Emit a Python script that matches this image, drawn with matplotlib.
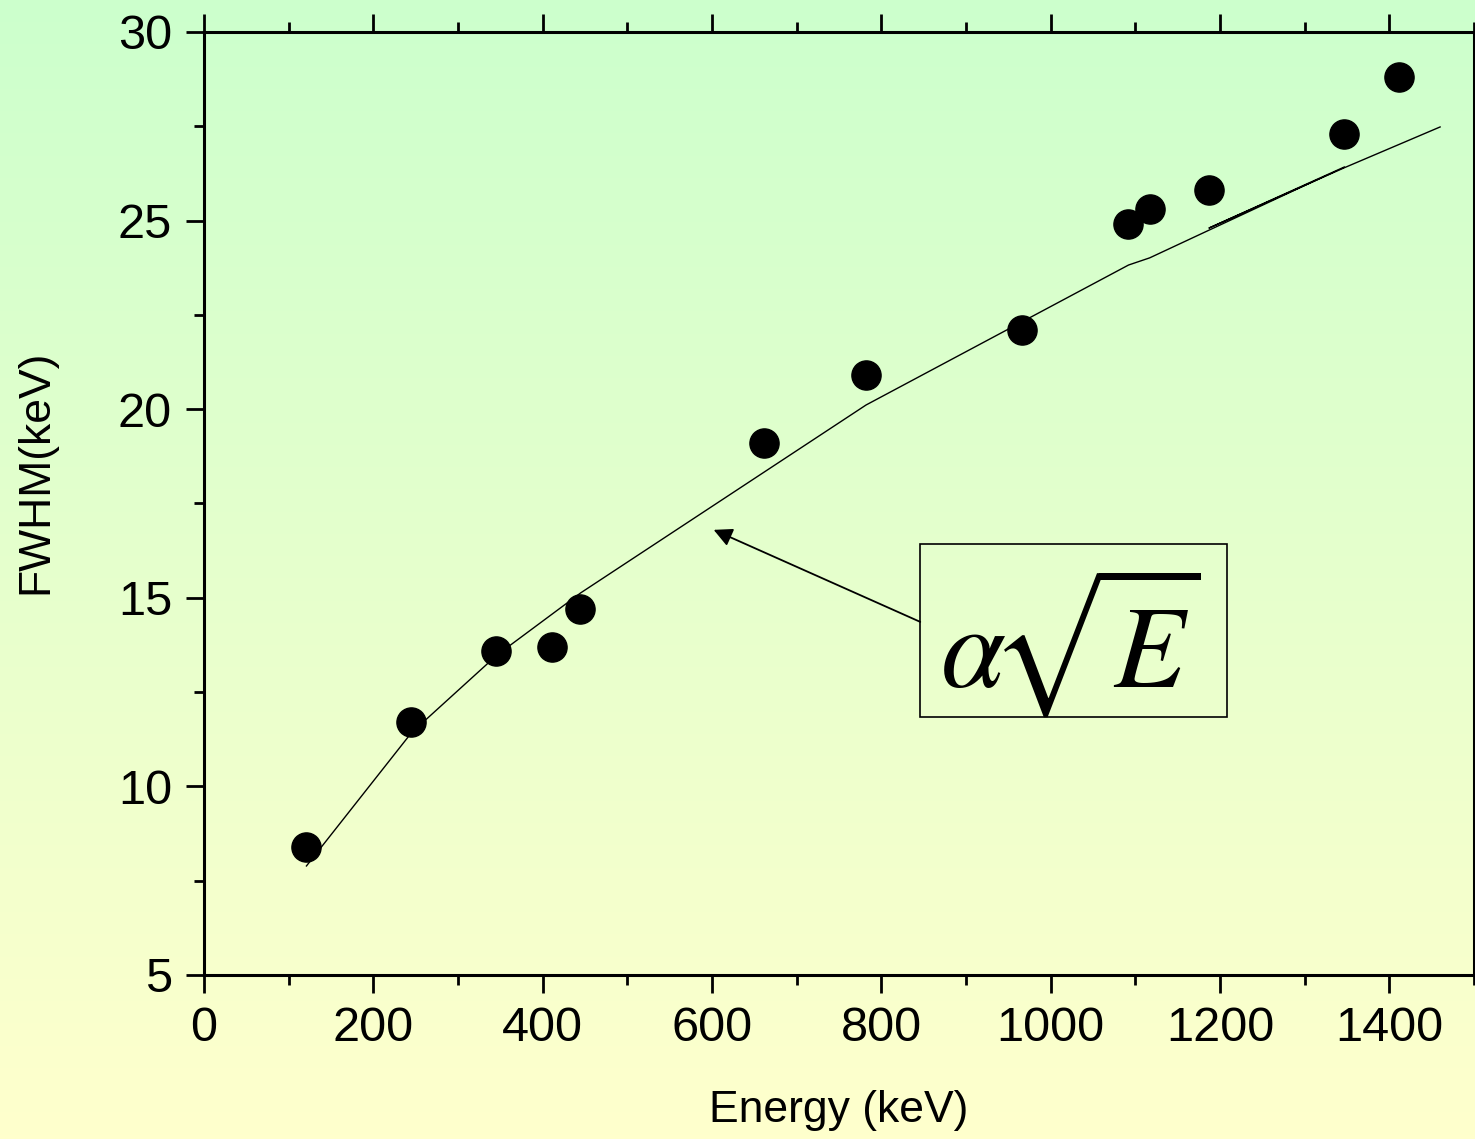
import numpy as np
import matplotlib
matplotlib.use("Agg")
import matplotlib.pyplot as plt
from matplotlib.colors import LinearSegmentedColormap
from matplotlib.ticker import MultipleLocator
from matplotlib.patches import Rectangle

plt.rcParams['font.family'] = ['Liberation Sans', 'DejaVu Sans']
plt.rcParams['mathtext.fontset'] = 'stix'

# measured peaks
energy = [121, 244, 345, 411, 444, 662, 782, 966, 1091, 1117, 1187, 1347, 1411]
fwhm = [8.4, 11.7, 13.6, 13.7, 14.7, 19.1, 20.9, 22.1, 24.9, 25.3, 25.8, 27.3, 28.8]

# fit curve (alpha*sqrt(E)) as drawn
fit_e = [121, 245, 346, 445, 782, 1092, 1117, 1347, 1187, 1347, 1460]
fit_w = [7.89, 11.42, 13.48, 15.13, 20.11, 23.82, 24.01, 26.42, 24.80, 26.40, 27.48]

fig = plt.figure(figsize=(14.75, 11.39), dpi=100)

# background gradient green -> yellow
bg = fig.add_axes([0, 0, 1, 1], zorder=-1)
cmap = LinearSegmentedColormap.from_list('bg', ['#CCFFCC', '#FFFFCC'])
bg.imshow(np.linspace(0, 1, 256).reshape(-1, 1), cmap=cmap, aspect='auto',
          extent=(0, 1, 0, 1))
bg.axis('off')

ax = fig.add_axes([0.1383, 0.144, 0.861, 0.828])
ax.patch.set_alpha(0)

ax.plot(fit_e, fit_w, color='black', lw=1.0)
ax.plot(energy, fwhm, 'o', color='black', markersize=21)

ax.set_xlim(0, 1500)
ax.set_ylim(5, 30)
ax.xaxis.set_major_locator(MultipleLocator(200))
ax.xaxis.set_minor_locator(MultipleLocator(100))
ax.yaxis.set_major_locator(MultipleLocator(5))
ax.yaxis.set_minor_locator(MultipleLocator(2.5))

for s in ax.spines.values():
    s.set_linewidth(2.2)
ax.tick_params(which='both', direction='out', top=True, right=False, width=2.0)
ax.tick_params(which='major', length=13, labelsize=35)
ax.tick_params(which='minor', length=7)
ax.tick_params(axis='y', which='major', pad=10)
ax.tick_params(axis='x', which='major', pad=9)

ax.set_xlabel('Energy (keV)', fontsize=32)
ax.set_ylabel('FWHM(keV)', fontsize=32)
ax.xaxis.set_label_coords(0.5, -0.122)
ax.yaxis.set_label_coords(-0.116, 0.534)

# formula box with arrow
ax.add_patch(Rectangle((846, 11.84), 362, 4.59, fill=False, ec='black', lw=1.2))
ax.text(1024, 12.64, r'$\alpha\!\sqrt{E}$', fontsize=84, ha='center', va='baseline')
ax.annotate('', xy=(602, 16.80), xytext=(846, 14.36),
            arrowprops=dict(arrowstyle='-|>', color='black', lw=1.3,
                            mutation_scale=28, shrinkA=0, shrinkB=0))

fig.savefig('out.png', dpi=100)
